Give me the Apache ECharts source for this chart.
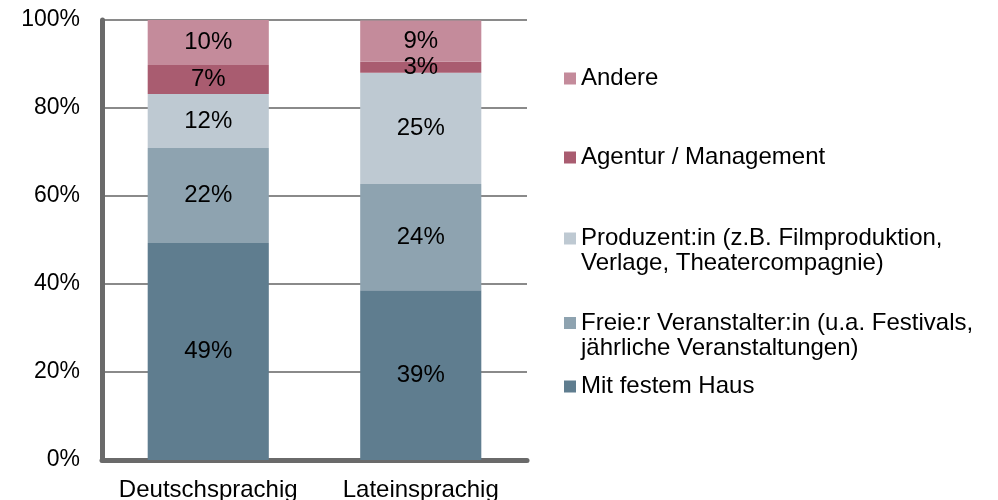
<!DOCTYPE html>
<html>
<head>
<meta charset="utf-8">
<script src="https://cdn.jsdelivr.net/npm/echarts@6/dist/echarts.min.js"></script>
<style>
  html, body { margin: 0; padding: 0; background: #fff; }
  #chart { width: 998px; height: 500px; }
</style>
</head>
<body>
<div id="chart"></div>
<script>
// Kategorien
var categories = ['Deutschsprachig', 'Lateinsprachig'];

// Anteile in Prozent (von unten nach oben gestapelt)
var mitFestemHaus = [49.3, 38.6];
var freieVeranstalter = [21.6, 24.1];
var produzent = [12.3, 25.3];
var agentur = [6.6, 2.5];
var andere = [10.2, 9.4];

var seriesNames = [
  'Mit festem Haus',
  'Freie:r Veranstalter:in (u.a. Festivals,\njährliche Veranstaltungen)',
  'Produzent:in (z.B. Filmproduktion,\nVerlage, Theatercompagnie)',
  'Agentur / Management',
  'Andere'
];
var seriesData = [mitFestemHaus, freieVeranstalter, produzent, agentur, andere];
var colors = ['#5f7d8f', '#8ea3b0', '#bec9d2', '#a95c70', '#c48b9b'];

// Legende: Position je Eintrag (oben), wie im Original
var legendTops = [374, 285.5, 201, 145, 66];

var chart = echarts.init(document.getElementById('chart'))

var font = 'Liberation Sans, Arial, sans-serif'

var legends = seriesNames.map(function (name, i) {
  var twoLines = name.indexOf('\n') >= 0
  return {
    data: [name],
    orient: 'vertical',
    left: 564,
    top: legendTops[i],
    padding: 0,
    itemWidth: 12,
    itemHeight: 12,
    icon: 'rect',
    selectedMode: false,
    // leere Zeile davor, damit das Symbol auf Höhe der ersten Zeile sitzt
    formatter: function (n) {
      return twoLines ? '\u00a0\n' + n : n
    },
    textStyle: {
      fontFamily: font,
      fontSize: 24,
      color: '#000',
      lineHeight: 25
    }
  }
})

chart.setOption({
  animation: false,
  color: colors,
  grid: {
    left: 102,
    right: 471,
    top: 20,
    bottom: 40,
    outerBoundsMode: 'none'
  },
  legend: legends,
  xAxis: {
    type: 'category',
    data: categories,
    axisLine: {
      lineStyle: { color: '#6a6a6a', width: 5 }
    },
    axisTick: { show: false },
    axisLabel: {
      interval: 0,
      fontFamily: font,
      fontSize: 24,
      color: '#000',
      margin: 18
    }
  },
  yAxis: {
    type: 'value',
    min: 0,
    max: 100,
    interval: 20,
    axisLine: {
      show: true,
      lineStyle: { color: '#6a6a6a', width: 5 }
    },
    axisTick: { show: false },
    splitLine: {
      lineStyle: { color: '#8a8a8a', width: 2 }
    },
    axisLabel: {
      formatter: '{value}%',
      fontFamily: font,
      fontSize: 23,
      color: '#000',
      margin: 22
    }
  },
  series: seriesData.map(function (data, i) {
    return {
      name: seriesNames[i],
      type: 'bar',
      stack: 'total',
      barWidth: '57%',
      data: data,
      label: {
        show: true,
        position: 'inside',
        fontFamily: font,
        fontSize: 24,
        color: '#000',
        formatter: function (p) {
          return Math.round(p.value) + '%'
        }
      }
    }
  })
})
</script>
</body>
</html>
